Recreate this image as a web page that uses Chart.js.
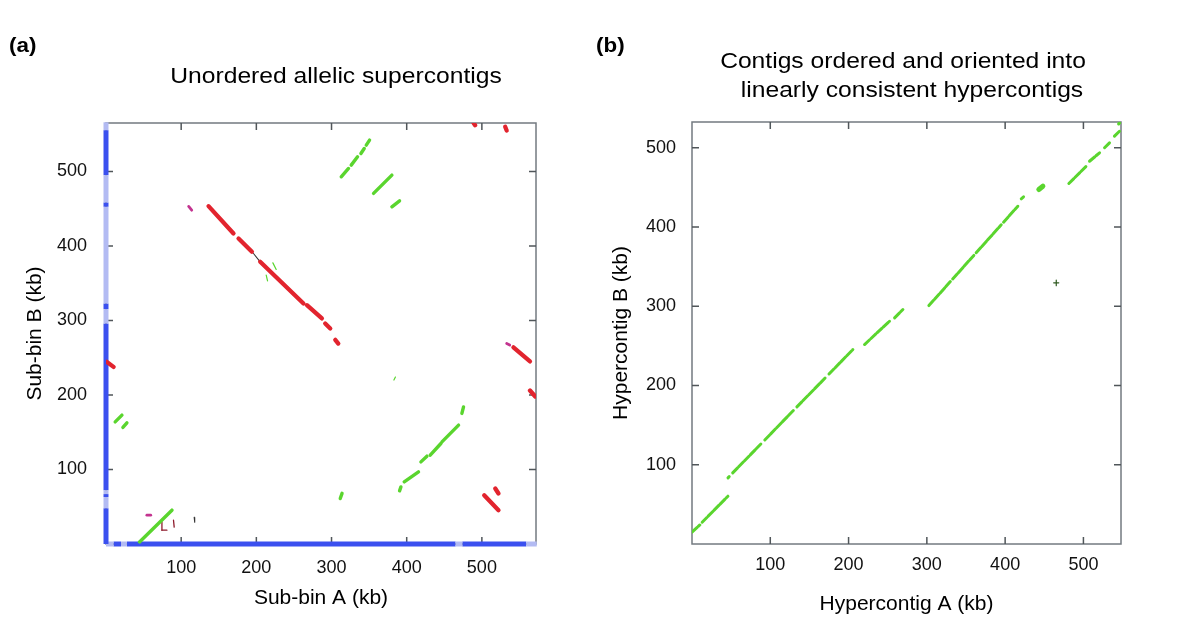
<!DOCTYPE html>
<html><head><meta charset="utf-8">
<script src="https://cdn.jsdelivr.net/npm/chart.js@4.4.1/dist/chart.umd.min.js"></script>
<style>
html,body{margin:0;padding:0;background:#fff;}
#wrap{position:relative;width:1200px;height:641px;overflow:hidden;background:#fff;font-family:"Liberation Sans",Arial,Helvetica,sans-serif;color:#000;}
canvas{position:absolute;top:0;}
#ca{left:0}
#cb{left:600px}
.lbl{position:absolute;font-weight:bold;font-size:20px;line-height:20px;transform:scaleX(1.12);transform-origin:left top;white-space:nowrap;}
.ttl{position:absolute;font-size:22px;line-height:22px;text-align:center;white-space:nowrap;width:460px;transform:scaleX(1.12);transform-origin:center top;}
</style></head>
<body><div id="wrap">
<canvas id="ca" width="600" height="641"></canvas>
<canvas id="cb" width="600" height="641"></canvas>
<div class="lbl" style="left:9px;top:35px">(a)</div>
<div class="lbl" style="left:596px;top:35px">(b)</div>
<div class="ttl" style="left:106px;top:65px">Unordered allelic supercontigs</div>
<div class="ttl" style="left:673px;top:50px">Contigs ordered and oriented into</div>
<div class="ttl" style="left:682px;top:79px">linearly consistent hypercontigs</div>
</div>
<script>
// ---------- Panel (a): Sub-bin A vs Sub-bin B (kb) ----------
const ticksA = [100, 200, 300, 400, 500];
// segments: [x1, y1, x2, y2] in kb
const redA = [
  [136.4,453.4,169.6,416.8],[176.3,410.1,194.1,392.1],[205.1,378.7,262.7,322.8],
  [267.3,320.5,287.2,302.7],[291.6,296,298.3,289.3],[305,274,309,269],
  [489,565,491,562],[531,560,533,555],[542,264,564,245],[564,206,571,198],
  [1.2,244.4,10,237.7],[503.1,65.5,522.1,45.4],[517.8,74.5,522.1,67.8]
];
const magentaA = [[110,453,114,448],[54.4,38.7,59.5,38.7],[533,269,537,267]];
const darkRedA = [[74.4,29.7,74.4,18.5],[74.4,18.5,81,18.5],[89.8,31.9,90.7,22.6]];
const blackA = [[117.3,36,118,29.3],[196.2,389.9,205.1,378.7]];
const greenA = [
  [312.9,492.8,322.6,504.0],[326.2,508.5,334.6,519.6],[339.1,524.1,343.5,530.8],[346.2,535.3,350.6,542],
  [355.9,470.5,380.3,495.0],[380.3,452.5,390.5,460.5],
  [390.5,71.3,392.3,76.6],[396.7,83.4,415.7,96.8],[418.9,110.2,426.9,117.9],
  [431.3,119.2,445.5,134.9],[446.9,137,469,159.5],[473.4,175.2,475.6,184],
  [311.6,61,314,68],[12.2,163.9,21.2,172.9],[22.5,156.4,27.8,162.6],[44.6,2.8,87.7,45.4]
];
const greenThinA = [[383,220,385,224],[222,377.3,226.4,368.5],[213.1,360.8,214.9,353.2]];
// contig boundary bars (kb ranges)
const barYDark = [[495,555.4],[452.5,458.4],[315.2,322.8],[72.2,296],[63,67],[0,48]];
const barYLight = [[555.4,566],[458.4,495],[322.8,452.5],[296,315.2],[67,72.2],[48,63]];
const barXDark = [[10,20],[27.8,465],[474,559]];
const barXLight = [[0,10],[20,27.8],[465,474],[559,573]];

// ---------- Panel (b): Hypercontig A vs Hypercontig B (kb) ----------
const ticksB = [100, 200, 300, 400, 500];
const greenB = [
  [0,15,10,24],[13,27.5,45.9,60.3],
  [46,83.5,47.5,85],[52,89.7,88,126.2],[93,131.3,130,169],[134,173,170,209.4],[175,214.5,205.5,245.4],
  [220.4,251.7,252.3,281.1],[258.8,285.4,269.4,295.9],
  [302.6,300.9,330,331.1],[333,334.4,360,364.2],[363,367.5,395,402.8],[398,406.1,416.2,426.2],
  [420.6,435.6,423.5,438.1],
  [481.4,454.9,503.6,476.7],[507.8,483,520.6,493.6],[527,500,533.3,506.2],[539.7,514.6,546.1,520.9],
  [545,530,547,532.5]
];
const greenBlobB = [[443,447.3,448.2,451.5]];
const crossB = [[462,329.6,468.5,329.6],[465.3,326,465.3,333]];

// ---------- colours ----------
const GREEN = '#5ad52e', RED = '#e2242e', MAGENTA = '#c3338f', DARKRED = '#8e1b2c',
      BLACK = '#333333', BLUE = '#3b50ef', BLUELIGHT = '#b3bbf3', FRAME = '#737a80', TICK = '#50565a';
const FONT = '"Liberation Sans", Arial, Helvetica, sans-serif';

function segs(list, color, width, extra) {
  return list.map(s => Object.assign({
    data: [{x: s[0], y: s[1]}, {x: s[2], y: s[3]}],
    borderColor: color, backgroundColor: color, borderWidth: width,
    showLine: true, pointRadius: 0, borderCapStyle: 'round'
  }, extra || {}));
}
function barsY(list, color) {
  return list.map(r => ({data: [{x: 0, y: r[0]}, {x: 0, y: r[1]}], borderColor: color, borderWidth: 5,
    showLine: true, pointRadius: 0, borderCapStyle: 'butt', clip: false}));
}
function barsX(list, color) {
  return list.map(r => ({data: [{x: r[0], y: 0}, {x: r[1], y: 0}], borderColor: color, borderWidth: 5,
    showLine: true, pointRadius: 0, borderCapStyle: 'butt', clip: false}));
}

const framePlugin = {
  id: 'frame',
  beforeDatasetsDraw(chart) {
    const {ctx, chartArea: a, scales: {x, y}} = chart;
    ctx.save();
    ctx.strokeStyle = FRAME; ctx.lineWidth = 1.5;
    ctx.strokeRect(a.left, a.top, a.right - a.left, a.bottom - a.top);
    ctx.strokeStyle = TICK; ctx.lineWidth = 1.5;
    const L = 7;
    ctx.beginPath();
    x.ticks.forEach(t => {
      const p = x.getPixelForValue(t.value);
      ctx.moveTo(p, a.bottom); ctx.lineTo(p, a.bottom - L);
      ctx.moveTo(p, a.top); ctx.lineTo(p, a.top + L);
    });
    y.ticks.forEach(t => {
      const p = y.getPixelForValue(t.value);
      ctx.moveTo(a.left, p); ctx.lineTo(a.left + L, p);
      ctx.moveTo(a.right, p); ctx.lineTo(a.right - L, p);
    });
    ctx.stroke();
    ctx.restore();
  }
};

function makeOptions(c) {
  return {
    responsive: false, animation: false, devicePixelRatio: 1, events: [],
    layout: {padding: {left: 0, right: c.padRight, top: c.top, bottom: 0}},
    plugins: {legend: {display: false}, tooltip: {enabled: false}},
    scales: {
      x: {
        type: 'linear', min: 0, max: c.xMax,
        grid: {display: false, drawTicks: false}, border: {display: false},
        afterBuildTicks: s => { s.ticks = c.ticks.map(v => ({value: v})); },
        afterFit: s => { s.height = c.xH; },
        ticks: {color: '#111', font: {family: FONT, size: 18}, padding: c.xPad, maxRotation: 0, autoSkip: false},
        title: {display: true, text: c.xTitle, color: '#000', font: {family: FONT, size: 21}, padding: {top: 0, bottom: c.xTitlePad}}
      },
      y: {
        type: 'linear', min: 0, max: c.yMax,
        grid: {display: false, drawTicks: false}, border: {display: false},
        afterBuildTicks: s => { s.ticks = c.ticks.map(v => ({value: v})); },
        afterFit: s => { s.width = c.yW; },
        ticks: {color: '#111', font: {family: FONT, size: 18}, padding: c.yPad, autoSkip: false},
        title: {display: true, text: c.yTitle, color: '#000', font: {family: FONT, size: 21}, padding: {top: c.yTitlePad, bottom: 0}}
      }
    }
  };
}

new Chart(document.getElementById('ca'), {
  type: 'scatter',
  data: {datasets: [].concat(
    segs(greenThinA, GREEN, 1.2),
    segs(greenA, GREEN, 3.4),
    segs(redA, RED, 4.3),
    segs(magentaA, MAGENTA, 2.8),
    segs(darkRedA, DARKRED, 1.3),
    segs(blackA, BLACK, 1.1),
    barsY(barYLight, BLUELIGHT), barsY(barYDark, BLUE),
    barsX(barXLight, BLUELIGHT), barsX(barXDark, BLUE)
  )},
  options: makeOptions({padRight: 64, top: 123, xMax: 572, yMax: 565, ticks: ticksA,
    xH: 97, yW: 106, xPad: 13, yPad: 19, xTitle: 'Sub-bin A (kb)', yTitle: 'Sub-bin B (kb)',
    xTitlePad: 30, yTitlePad: 23}),
  plugins: [framePlugin]
});

new Chart(document.getElementById('cb'), {
  type: 'scatter',
  data: {datasets: [].concat(
    segs(greenB, GREEN, 3, {borderDash: [7, 1.5]}),
    segs(greenBlobB, GREEN, 5),
    segs(crossB, '#2f5a20', 1.2)
  )},
  options: makeOptions({padRight: 79, top: 122, xMax: 548, yMax: 532.5, ticks: ticksB,
    xH: 97, yW: 92, xPad: 10, yPad: 16, xTitle: 'Hypercontig A (kb)', yTitle: 'Hypercontig B (kb)',
    xTitlePad: 24, yTitlePad: 9}),
  plugins: [framePlugin]
});
</script>
</body></html>
